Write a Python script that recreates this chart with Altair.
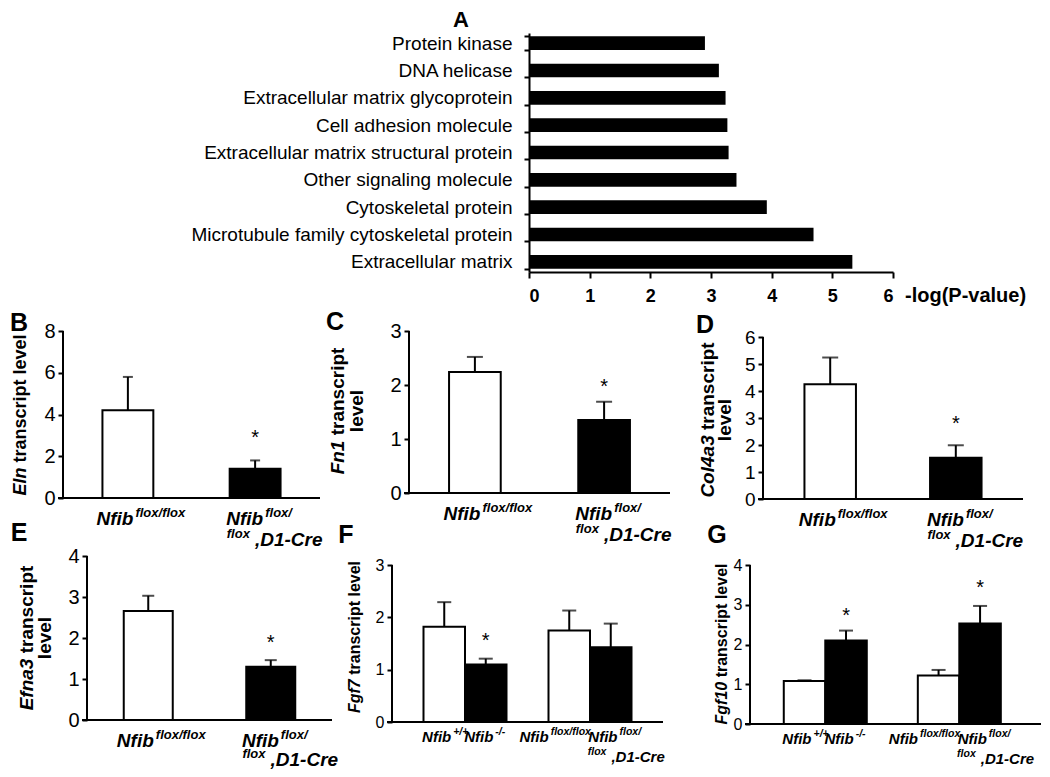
import altair as alt
import pandas as pd

FONT = "Liberation Sans"

# ---------------- data ----------------
A_terms = ["Protein kinase", "DNA helicase", "Extracellular matrix glycoprotein",
           "Cell adhesion molecule", "Extracellular matrix structural protein",
           "Other signaling molecule", "Cytoskeletal protein",
           "Microtubule family cytoskeletal protein", "Extracellular matrix"]
A_values = [2.90, 3.13, 3.24, 3.27, 3.29, 3.42, 3.92, 4.69, 5.33]
A_ticks = [0, 1, 2, 3, 4, 5, 6]
A_xtitle = "-log(P-value)"

pair_bars = ["Nfib flox/flox", "Nfib flox/flox,D1-Cre"]
quad_groups = ["germline", "conditional"]
quad_genos = ["control", "knockout"]

B_mean = [4.20, 1.40]; B_top = [5.80, 1.80]; B_star = [None, 3.16]; B_ticks = [0, 2, 4, 6, 8]
C_mean = [2.24, 1.35]; C_top = [2.52, 1.69]; C_star = [None, 2.06]; C_ticks = [0, 1, 2, 3]
D_mean = [4.25, 1.53]; D_top = [5.24, 1.99]; D_star = [None, 3.00]; D_ticks = [0, 1, 2, 3, 4, 5, 6]
E_mean = [2.66, 1.30]; E_top = [3.03, 1.46]; E_star = [None, 2.02]; E_ticks = [0, 1, 2, 3, 4]
F_mean = [1.82, 1.10, 1.75, 1.43]; F_top = [2.29, 1.21, 2.13, 1.88]; F_star = [None, 1.66, None, None]; F_ticks = [0, 1, 2, 3]
G_mean = [1.08, 2.10, 1.22, 2.53]; G_top = [1.10, 2.35, 1.36, 2.97]; G_star = [None, 2.87, None, 3.55]; G_ticks = [0, 1, 2, 3, 4]

pair_line1 = [["Nfib", "flox/flox"], ["Nfib", "flox/"]]
pair_line2 = [None, ["flox", ",D1-Cre"]]
quad_line1 = [["Nfib", "+/+"], ["Nfib", "-/-"], ["Nfib", "flox/flox"], ["Nfib", "flox/"]]
quad_line2 = [None, None, None, ["flox", ",D1-Cre"]]

B_title = ["Eln", "transcript level", None]
C_title = ["Fn1", "transcript", "level"]
D_title = ["Col4a3", "transcript", "level"]
E_title = ["Efna3", "transcript", "level"]
F_title = ["Fgf7", "transcript level", None]
G_title = ["Fgf10", "transcript level", None]

# ---------------- helpers ----------------
BW = {' ': .278, 'a': .556, 'b': .611, 'c': .556, 'd': .611, 'e': .556, 'f': .333, 'g': .611,
      'i': .278, 'l': .278, 'n': .611, 'o': .611, 'p': .611, 'r': .389, 's': .556, 't': .333,
      'v': .556, 'x': .556, 'E': .667, 'F': .611, 'C': .722, 'D': .722, 'N': .722, '/': .278,
      '+': .584, '-': .333, ',': .278}


def tw(s, fs):
    return fs * sum(BW.get(ch, .556) for ch in s)


ONE = pd.DataFrame({"k": [0]})


def txt(s, x, y, fs, **kw):
    return alt.Chart(ONE).mark_text(text=s, font=FONT, fontSize=fs, color="black", **kw).encode(
        x=alt.value(x), y=alt.value(y))


def spacer(w, h=1):
    return alt.Chart(ONE).mark_rule(opacity=0, strokeWidth=0).encode(x=alt.value(0)).properties(width=w, height=h)


def extent(top, bottom):
    # invisible guide that fixes the vertical extent of a row for the layout
    return alt.Chart(ONE).mark_rule(opacity=0, strokeWidth=0).encode(
        x=alt.value(0), y=alt.value(top), y2=alt.value(bottom))


def vtitle(italic, rest, cx, cy, fs):
    W = tw(italic + " " + rest, fs)
    bottom = cy + W / 2
    start = bottom - tw(italic + " ", fs)
    return [txt(italic, cx, bottom, fs, angle=270, align="left", baseline="middle",
                fontWeight="bold", fontStyle="italic"),
            txt(rest, cx, start, fs, angle=270, align="left", baseline="middle", fontWeight="bold")]


def panel(P):
    quad = P["quad"]
    if quad:
        df = pd.DataFrame({"grp": [g for g in quad_groups for _ in quad_genos],
                           "geno": quad_genos * len(quad_groups)})
        df["shade"] = ["open", "filled"] * len(quad_groups)
        xenc = {"x": alt.X("grp:N", sort=quad_groups, axis=None,
                           scale=alt.Scale(paddingInner=P["pi"], paddingOuter=P["po"])),
                "xOffset": alt.XOffset("geno:N", sort=quad_genos,
                                       scale=alt.Scale(paddingInner=0, paddingOuter=0))}
        line1, line2 = quad_line1, quad_line2
    else:
        df = pd.DataFrame({"cat": pair_bars})
        df["shade"] = ["open", "filled"]
        xenc = {"x": alt.X("cat:N", sort=pair_bars, axis=None,
                           scale=alt.Scale(paddingInner=P["pi"], paddingOuter=P["po"]))}
        line1, line2 = pair_line1, pair_line2
    df["mean"] = P["mean"]
    df["top"] = P["top"]
    df["star"] = P["star"]
    w, h = P["w"], P["h"]
    ticks = P["ticks"]
    ymax = ticks[-1]
    yscale = alt.Scale(domain=[0, P.get("dmax", ymax)], nice=False)
    yaxis = alt.Axis(values=ticks, tickCount=len(ticks), format="d", labelOverlap=False, title=None,
                     grid=False, domain=False, tickSize=5, tickWidth=2, tickColor="black", labelFont=FONT,
                     labelFontSize=P["tfs"], labelColor="black", labelPadding=3)
    base = alt.Chart(df)
    layers = [
        base.mark_bar(stroke="black", strokeWidth=2).encode(
            **xenc, y=alt.Y("mean:Q", scale=yscale, axis=yaxis),
            fill=alt.Fill("shade:N", scale=alt.Scale(domain=["open", "filled"], range=["white", "black"]),
                          legend=None)),
        base.mark_rule(color="black", strokeWidth=2).encode(**xenc, y="mean:Q", y2="top:Q"),
        base.mark_tick(color="black", thickness=2, size=P["capw"]).encode(**xenc, y="top:Q"),
        base.transform_filter("isValid(datum.star)").mark_text(
            text="*", font=FONT, fontSize=20, color="black", baseline="alphabetic", dy=11.6).encode(
            **xenc, y="star:Q"),
        alt.Chart(ONE).mark_rule(color="black", strokeWidth=2).encode(
            x=alt.value(0), y=alt.datum(0), y2=alt.datum(ymax)),
        alt.Chart(ONE).mark_rule(color="black", strokeWidth=2).encode(
            x=alt.value(-5), x2=alt.value(w), y=alt.datum(0)),
    ]
    mfs, sfs = P["mfs"], P["sfs"]
    raise_ = -0.33 * mfs
    for i in range(len(df)):
        row = alt.Chart(df.iloc[[i]])
        main, sup = line1[i]
        s = P["shift1"][i]
        W = tw(main, mfs) + tw(sup, sfs)
        b = s - W / 2 + tw(main, mfs)
        y1 = h + P["l1"]
        layers.append(row.mark_text(text=main, font=FONT, fontSize=mfs, fontWeight="bold", fontStyle="italic",
                                    color="black", align="right", baseline="middle", dx=b - 1).encode(
            **xenc, y=alt.value(y1)))
        layers.append(row.mark_text(text=sup, font=FONT, fontSize=sfs, fontWeight="bold", fontStyle="italic",
                                    color="black", align="left", baseline="middle", dx=b + 1).encode(
            **xenc, y=alt.value(y1 + raise_)))
        if line2[i] is not None:
            sup2, main2 = line2[i]
            s2 = P["shift2"][i]
            W2 = tw(sup2, sfs) + tw(main2, mfs)
            b2 = s2 - W2 / 2 + tw(sup2, sfs)
            y2 = h + P["l2"]
            layers.append(row.mark_text(text=sup2, font=FONT, fontSize=sfs, fontWeight="bold",
                                        fontStyle="italic", color="black", align="right",
                                        baseline="middle", dx=b2 - 4).encode(**xenc, y=alt.value(y2 + raise_)))
            layers.append(row.mark_text(text=main2, font=FONT, fontSize=mfs, fontWeight="bold",
                                        fontStyle="italic", color="black", align="left",
                                        baseline="middle", dx=b2 + 1).encode(**xenc, y=alt.value(y2)))
    it, rest, second = P["title"]
    layers += vtitle(it, rest, P["tx1"], P["tcy"], P["ttfs"])
    if second:
        layers.append(txt(second, P["tx2"], P["tcy"], P["ttfs"], angle=270, align="center",
                          baseline="middle", fontWeight="bold"))
    lx, ly = P["letter_xy"]
    layers.append(txt(P["letter"], lx, ly, 25, fontWeight="bold", align="center", baseline="middle"))
    if "ext" in P:
        layers.append(extent(*P["ext"]))
    return alt.layer(*layers).properties(width=w, height=h)


# ---------------- panel A ----------------
dfA = pd.DataFrame({"term": A_terms, "val": A_values})
A = alt.layer(
    alt.Chart(dfA).mark_bar(color="black").encode(
        y=alt.Y("term:N", sort=A_terms, scale=alt.Scale(paddingInner=0.5, paddingOuter=0.12),
                axis=alt.Axis(title=None, labelFont=FONT, labelFontSize=19, labelColor="black",
                              labelPadding=12, labelLimit=0, ticks=True, tickBand="extent", tickSize=5,
                              tickWidth=2, tickColor="black", domainColor="black", domainWidth=2)),
        x=alt.X("val:Q", scale=alt.Scale(domain=[0, 6], nice=False),
                axis=alt.Axis(values=A_ticks, tickCount=7, format="d", title=None, grid=False, tickSize=6,
                              tickWidth=2, tickColor="black", domainColor="black", domainWidth=2,
                              labelFont=FONT, labelFontSize=18, labelFontWeight="bold", labelColor="black",
                              labelPadding=9))),
    txt(A_xtitle, 376, 263, 20, fontWeight="bold", align="left", baseline="middle"),
    txt("A", -68, -13, 22, fontWeight="bold", align="center", baseline="middle"),
    extent(-25, 298),
).properties(width=364, height=239)

pair_common = dict(quad=False, mfs=19, sfs=13, l1=21, l2=42, shift1=[13, 4], shift2=[None, 21])
quad_common = dict(quad=True, mfs=15, sfs=10.5, l1=15, l2=35, shift1=[1, -1, -14, 4],
                   shift2=[None, None, None, 17], capw=14)

Bp = panel(dict(pair_common, mean=B_mean, top=B_top, star=B_star, ticks=B_ticks, w=257, h=167, pi=0.6,
                po=0.31, tfs=20, title=B_title, tx1=-42, tx2=None, tcy=84, ttfs=18, letter="B",
                letter_xy=(-44, -8), capw=10, ext=(-23, 221)))
Cp = panel(dict(pair_common, mean=C_mean, top=C_top, star=C_star, ticks=C_ticks, w=261, h=162, pi=0.6,
                po=0.31, tfs=20, title=C_title, tx1=-71, tx2=-52, tcy=80, ttfs=19, letter="C",
                letter_xy=(-74, -9), capw=16))
Dp = panel(dict(pair_common, mean=D_mean, top=D_top, star=D_star, ticks=D_ticks, w=260, h=168,
                dmax=6 * 168 / 162, pi=0.59, po=0.33, tfs=19, title=D_title, tx1=-55, tx2=-38, tcy=89,
                ttfs=19, letter="D", letter_xy=(-58, -6), capw=16))
Ep = panel(dict(pair_common, mean=E_mean, top=E_top, star=E_star, ticks=E_ticks, w=245, h=164, pi=0.6,
                po=0.3, tfs=20, title=E_title, tx1=-60, tx2=-42, tcy=82, ttfs=19, letter="E",
                letter_xy=(-68, -23), capw=12, l2=40, ext=(-38, 230)))
Fp = panel(dict(quad_common, mean=F_mean, top=F_top, star=F_star, ticks=F_ticks, w=271, h=166,
                dmax=3 * 166 / 157, pi=0.336, po=0.252, tfs=16, title=F_title, tx1=-37, tcy=81, ttfs=16,
                letter="F", letter_xy=(-46, -21)))
Gp = panel(dict(quad_common, mean=G_mean, top=G_top, star=G_star, ticks=G_ticks, w=291, h=168,
                dmax=4 * 168 / 159, pi=0.333, po=0.252, tfs=16, title=G_title, tx1=-28, tcy=88, ttfs=16,
                letter="G", letter_xy=(-33, -21)))

rowA = alt.hconcat(spacer(521), A, spacing=0, bounds="flush")
row2 = alt.hconcat(spacer(55), Bp, spacer(89), Cp, spacer(93), Dp, spacing=0, bounds="flush")
row3 = alt.hconcat(spacer(79), Ep, spacer(60), Fp, spacer(87), Gp, spacing=0, bounds="flush")

chart = alt.vconcat(rowA, row2, row3, spacing=-34).properties(
    padding=0, background="white").configure_view(stroke=None)

chart.save("out.html", embed_options={"renderer": "svg", "actions": False})
